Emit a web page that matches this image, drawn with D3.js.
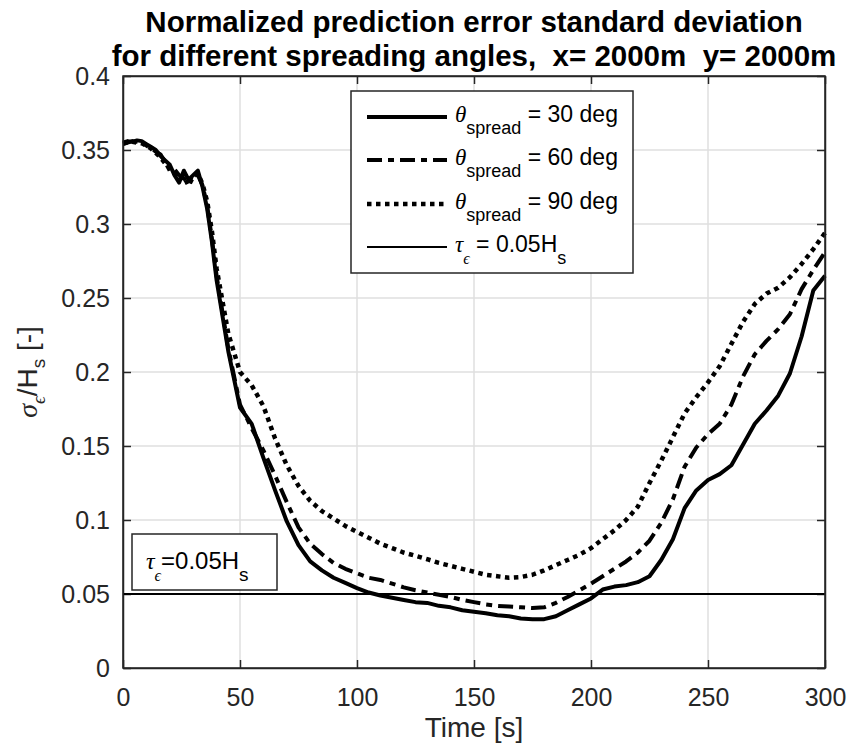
<!DOCTYPE html>
<html>
<head>
<meta charset="utf-8">
<script src="https://cdn.jsdelivr.net/npm/d3@7"></script>
<style>
  body { margin: 0; background: #fff; }
  svg { font-family: "Liberation Sans", Arial, sans-serif; }
  .grid line { stroke: #dfdfdf; stroke-width: 1.5; }
  .axis path, .axis line { stroke: #262626; stroke-width: 1.5; }
  .axis text { fill: #262626; font-size: 25px; }
</style>
</head>
<body>
<svg id="chart"></svg>
<script>
// time axis (s)
const timeS = [0, 2, 4, 6, 8, 10, 12, 14, 16, 18, 20, 22, 24, 26, 28, 30, 32, 34, 36, 38, 40,
  45, 50, 55, 60, 65, 70, 75, 80, 85, 90, 95, 100, 105, 110, 115, 120, 125, 130, 135, 140,
  145, 150, 155, 160, 165, 170, 175, 180, 185, 190, 195, 200, 205, 210, 215, 220, 225, 230,
  235, 240, 245, 250, 255, 260, 265, 270, 275, 280, 285, 290, 295, 300];

// normalized error std, spreading 30 deg
const spread30 = [0.355, 0.356, 0.3555, 0.3565, 0.356, 0.354, 0.352, 0.350, 0.346, 0.343, 0.340,
  0.333, 0.328, 0.336, 0.330, 0.333, 0.336, 0.325, 0.310, 0.288, 0.262,
  0.214, 0.176, 0.165, 0.142, 0.120, 0.099, 0.083, 0.072, 0.066, 0.061, 0.0575, 0.054, 0.051,
  0.049, 0.0475, 0.046, 0.0445, 0.044, 0.042, 0.041, 0.039, 0.038, 0.037, 0.0357, 0.035,
  0.0335, 0.033, 0.033, 0.035, 0.039, 0.043, 0.047, 0.053, 0.055, 0.056, 0.058, 0.062, 0.073,
  0.087, 0.108, 0.120, 0.127, 0.131, 0.137, 0.151, 0.165, 0.174, 0.184, 0.199, 0.224, 0.255, 0.265];

// spreading 60 deg
const spread60 = [0.354, 0.355, 0.356, 0.3555, 0.355, 0.353, 0.351, 0.349, 0.347, 0.342, 0.336,
  0.337, 0.333, 0.331, 0.327, 0.334, 0.333, 0.326, 0.312, 0.290, 0.265,
  0.216, 0.178, 0.162, 0.147, 0.130, 0.112, 0.095, 0.084, 0.077, 0.071, 0.067, 0.064, 0.061,
  0.0595, 0.057, 0.0545, 0.0525, 0.051, 0.0495, 0.048, 0.046, 0.0445, 0.043, 0.042, 0.0415,
  0.041, 0.0405, 0.041, 0.044, 0.048, 0.0525, 0.057, 0.062, 0.067, 0.072, 0.078, 0.086, 0.098,
  0.114, 0.136, 0.149, 0.158, 0.165, 0.178, 0.197, 0.212, 0.221, 0.229, 0.239, 0.256, 0.269, 0.281];

// spreading 90 deg
const spread90 = [0.3545, 0.355, 0.3555, 0.355, 0.3545, 0.353, 0.351, 0.348, 0.345, 0.341, 0.338,
  0.334, 0.330, 0.332, 0.326, 0.332, 0.334, 0.327, 0.315, 0.295, 0.270,
  0.226, 0.200, 0.191, 0.177, 0.155, 0.137, 0.123, 0.113, 0.106, 0.101, 0.096, 0.092, 0.088,
  0.084, 0.081, 0.078, 0.0758, 0.0735, 0.071, 0.069, 0.067, 0.065, 0.063, 0.062, 0.061,
  0.0615, 0.063, 0.066, 0.0695, 0.073, 0.0765, 0.081, 0.087, 0.093, 0.100, 0.109, 0.125, 0.140,
  0.156, 0.172, 0.183, 0.193, 0.204, 0.219, 0.234, 0.246, 0.253, 0.257, 0.264, 0.273, 0.283, 0.294];

const threshold = 0.05;

const xTicks = [0, 50, 100, 150, 200, 250, 300];
const yTicks = [0, 0.05, 0.1, 0.15, 0.2, 0.25, 0.3, 0.35, 0.4];
const yTickLabels = ["0", "0.05", "0.1", "0.15", "0.2", "0.25", "0.3", "0.35", "0.4"];

const seriesNames = ["30", "60", "90"];
const seriesValues = [spread30, spread60, spread90];

class ErrorChart {

    constructor(_config) {
        this.config = {
            parentElement: _config.parentElement,
            containerWidth: 849,
            containerHeight: 752,
            margin: { top: 76, bottom: 84, right: 24, left: 123 }
        }
        this.initVis();
    }

    initVis() {
        let vis = this;

        vis.width = vis.config.containerWidth - vis.config.margin.left - vis.config.margin.right;
        vis.height = vis.config.containerHeight - vis.config.margin.top - vis.config.margin.bottom;

        vis.svg = d3.select(vis.config.parentElement)
            .attr('width', vis.config.containerWidth)
            .attr('height', vis.config.containerHeight);

        vis.chart = vis.svg.append('g')
            .attr('transform', `translate(${vis.config.margin.left},${vis.config.margin.top})`);

        vis.xScale = d3.scaleLinear().domain([0, 300]).range([0, vis.width]);
        vis.yScale = d3.scaleLinear().domain([0, 0.4]).range([vis.height, 0]);

        // styles for each series
        vis.styles = [
            { width: 4, dash: null },
            { width: 4, dash: '15,6,6,6' },
            { width: 4.5, dash: '4.5,4.5' }
        ];

        vis.renderVis();
    }

    renderVis() {
        let vis = this;

        // grid
        const grid = vis.chart.append('g').attr('class', 'grid');
        grid.selectAll('.gx').data(xTicks).join('line')
            .attr('x1', d => vis.xScale(d)).attr('x2', d => vis.xScale(d))
            .attr('y1', 0).attr('y2', vis.height);
        grid.selectAll('.gy').data(yTicks).join('line')
            .attr('class', 'gy')
            .attr('y1', d => vis.yScale(d)).attr('y2', d => vis.yScale(d))
            .attr('x1', 0).attr('x2', vis.width);

        // axes (ticks pointing inwards like matlab)
        vis.chart.append('g').attr('class', 'axis')
            .attr('transform', `translate(0,${vis.height})`)
            .call(d3.axisBottom(vis.xScale).tickValues(xTicks).tickSizeInner(-8).tickSizeOuter(0).tickPadding(20));
        vis.chart.append('g').attr('class', 'axis')
            .call(d3.axisLeft(vis.yScale).tickValues(yTicks).tickFormat((d, i) => yTickLabels[i])
                .tickSizeInner(-8).tickSizeOuter(0).tickPadding(13));
        vis.chart.append('g').attr('class', 'axis')
            .call(d3.axisTop(vis.xScale).tickValues(xTicks).tickFormat('').tickSizeInner(-8).tickSizeOuter(0));
        vis.chart.append('g').attr('class', 'axis')
            .attr('transform', `translate(${vis.width},0)`)
            .call(d3.axisRight(vis.yScale).tickValues(yTicks).tickFormat('').tickSizeInner(-8).tickSizeOuter(0));

        // threshold line
        vis.chart.append('line')
            .attr('x1', vis.xScale(0)).attr('x2', vis.xScale(300))
            .attr('y1', vis.yScale(threshold)).attr('y2', vis.yScale(threshold))
            .attr('stroke', '#000').attr('stroke-width', 2);

        // curves
        const line = d3.line()
            .x((d, i) => vis.xScale(timeS[i]))
            .y(d => vis.yScale(d));

        seriesValues.forEach((vals, k) => {
            vis.chart.append('path')
                .datum(vals)
                .attr('fill', 'none')
                .attr('stroke', '#000')
                .attr('stroke-width', vis.styles[k].width)
                .attr('stroke-linejoin', 'round')
                .attr('stroke-dasharray', vis.styles[k].dash)
                .attr('d', line);
        });

        // redraw box on top
        vis.chart.append('rect')
            .attr('width', vis.width).attr('height', vis.height)
            .attr('fill', 'none').attr('stroke', '#262626').attr('stroke-width', 1.5);

        // title
        const title = vis.svg.append('text')
            .attr('text-anchor', 'middle')
            .attr('font-weight', 'bold')
            .attr('font-size', '29.5px')
            .attr('fill', '#000');
        const cx = vis.config.margin.left + vis.width / 2;
        title.append('tspan').attr('x', cx).attr('y', 32).text('Normalized prediction error standard deviation');
        title.append('tspan').attr('x', cx).attr('y', 66).attr('xml:space', 'preserve')
            .text('for different spreading angles,  x= 2000m  y= 2000m');

        // x label
        vis.svg.append('text')
            .attr('x', cx).attr('y', 737)
            .attr('text-anchor', 'middle')
            .attr('font-size', '28px').attr('fill', '#262626')
            .text('Time [s]');

        // y label
        const yl = vis.svg.append('text')
            .attr('transform', `translate(37,${vis.config.margin.top + vis.height / 2}) rotate(-90)`)
            .attr('text-anchor', 'middle')
            .attr('font-size', '28px').attr('fill', '#262626');
        yl.append('tspan').attr('font-family', '"Liberation Serif", serif').attr('font-style', 'italic').text('σ');
        yl.append('tspan').attr('font-family', '"Liberation Serif", serif').attr('font-style', 'italic')
            .attr('font-size', '19px').attr('dy', 8).text('ϵ');
        yl.append('tspan').attr('dy', -8).text('/H');
        yl.append('tspan').attr('font-size', '19px').attr('dy', 8).text('s');
        yl.append('tspan').attr('dy', -8).text(' [-]');

        vis.drawLegend();
        vis.drawNote();
    }

    drawLegend() {
        let vis = this;
        const lg = vis.svg.append('g').attr('transform', 'translate(351,91)');
        lg.append('rect').attr('width', 282).attr('height', 182)
            .attr('fill', '#fff').attr('stroke', '#262626').attr('stroke-width', 1.5);

        const rowY = [26, 69, 113, 156];
        const styles = vis.styles.concat([{ width: 2, dash: null }]);
        rowY.forEach((y, i) => {
            lg.append('line')
                .attr('x1', 16).attr('x2', 96).attr('y1', y).attr('y2', y)
                .attr('stroke', '#000').attr('stroke-width', styles[i].width)
                .attr('stroke-dasharray', styles[i].dash);
            const t = lg.append('text').attr('x', 104).attr('y', y + 5)
                .attr('font-size', '23px').attr('fill', '#000');
            if (i < 3) {
                t.append('tspan').attr('font-family', '"Liberation Serif", serif').attr('font-style', 'italic').text('θ');
                t.append('tspan').attr('font-size', '18px').attr('dy', 12).text('spread');
                t.append('tspan').attr('dy', -12).attr('xml:space', 'preserve').text(` = ${seriesNames[i]} deg`);
            } else {
                t.append('tspan').attr('font-family', '"Liberation Serif", serif').attr('font-style', 'italic').text('τ');
                t.append('tspan').attr('font-family', '"Liberation Serif", serif').attr('font-style', 'italic')
                    .attr('font-size', '16px').attr('dy', 12).text('ϵ');
                t.append('tspan').attr('dy', -12).attr('xml:space', 'preserve').text(' = 0.05H');
                t.append('tspan').attr('font-size', '18px').attr('dy', 12).text('s');
            }
        });
    }

    drawNote() {
        let vis = this;
        const ng = vis.svg.append('g').attr('transform', 'translate(132,534)');
        ng.append('rect').attr('width', 145).attr('height', 56)
            .attr('fill', '#fff').attr('stroke', '#262626').attr('stroke-width', 1.5);
        const t = ng.append('text').attr('x', 14).attr('y', 35)
            .attr('font-size', '24px').attr('fill', '#000');
        t.append('tspan').attr('font-family', '"Liberation Serif", serif').attr('font-style', 'italic').text('τ');
        t.append('tspan').attr('font-family', '"Liberation Serif", serif').attr('font-style', 'italic')
            .attr('font-size', '16px').attr('dy', 12).text('ϵ');
        t.append('tspan').attr('dy', -12).text('=0.05H');
        t.append('tspan').attr('font-size', '19px').attr('dy', 12).text('s');
    }
}

new ErrorChart({ parentElement: '#chart' });
</script>
</body>
</html>
